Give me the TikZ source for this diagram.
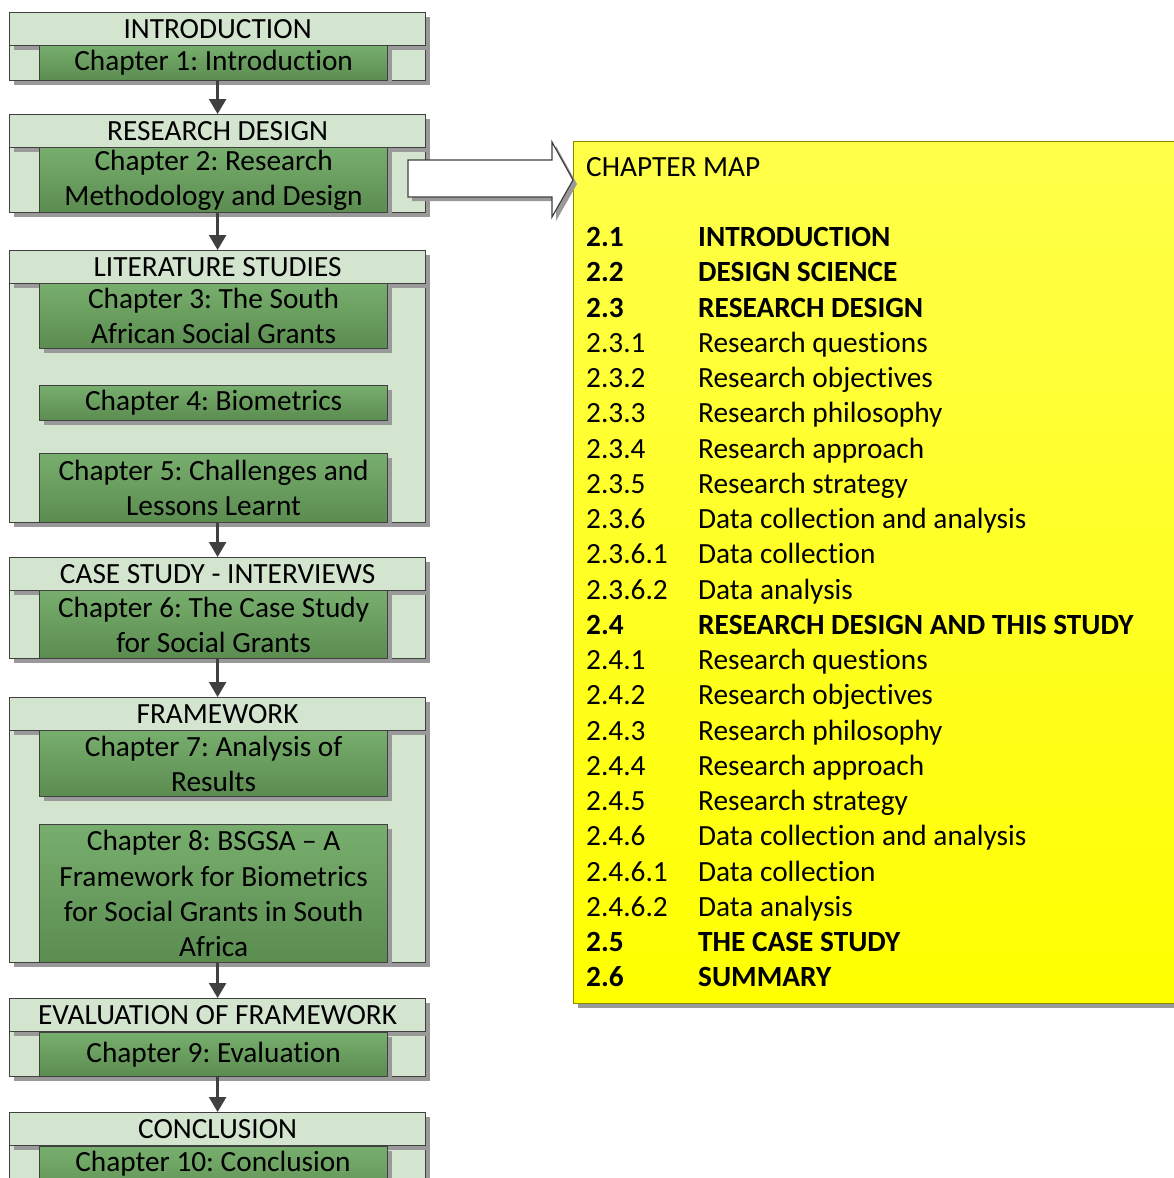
\documentclass[tikz,border=0pt]{standalone}
\usepackage{fontspec}
\setmainfont{Carlito}[Ligatures=NoCommon]
\usetikzlibrary{shadows,arrows.meta}
\definecolor{edge}{HTML}{404040}
\definecolor{panel}{HTML}{D4E5CF}
\definecolor{greentop}{HTML}{77AE6D}
\definecolor{greenbot}{HTML}{5B8C50}
\definecolor{yellowtop}{HTML}{FFFF4A}
\definecolor{yellowbot}{HTML}{FFFF00}
\definecolor{yellowedge}{HTML}{8A8A00}
\newcommand{\bodyfont}{\fontsize{29.3}{35.25}\selectfont\frenchspacing}
\tikzset{
  shade/.style={drop shadow={shadow xshift=4pt, shadow yshift=-4pt, fill=black!40, opacity=1}},
  outer/.style={draw=edge, fill=panel, line width=1.2pt, minimum width=416pt,
    anchor=north west, inner sep=0pt, shade},
  head/.style={draw=edge, fill=panel, line width=1.2pt, minimum width=416pt,
    minimum height=33pt, anchor=north west, inner sep=0pt, shade,
    font=\bodyfont, text height=18.9pt, text depth=0pt},
  chap/.style={draw=edge, top color=greentop, bottom color=greenbot, line width=1.2pt,
    minimum width=348pt, anchor=north west, inner sep=0pt, align=center,
    font=\bodyfont, shade},
  conn/.style={draw=edge, line width=2.4pt, -{Triangle[width=17pt,length=15pt]}},
}
\begin{document}
\begin{tikzpicture}[x=1pt,y=-1pt]
\clip (0,0) rectangle (1174,1178);
\fill[white] (0,0) rectangle (1174,1178);

% Introduction
\node[outer, minimum height=68pt] (o1) at (9,12) {};
\node[head] (h1) at (9,12) {INTRODUCTION};
\node[chap, minimum height=35pt] (c1) at (39,45) {Chapter 1: Introduction};

% Research design
\node[outer, minimum height=98pt] (o2) at (9,114) {};
\node[head] (h2) at (9,114) {RESEARCH DESIGN};
\node[chap, minimum height=65pt] (c2) at (39,147) {Chapter 2: Research\\Methodology and Design};

% Literature studies
\node[outer, minimum height=272pt] (o3) at (9,250) {};
\node[head] (h3) at (9,250) {LITERATURE STUDIES};
\node[chap, minimum height=65pt] (c3) at (39,283) {Chapter 3: The South\\African Social Grants};
\node[chap, minimum height=35pt] (c4) at (39,385) {Chapter 4: Biometrics};
\node[chap, minimum height=69pt] (c5) at (39,453) {Chapter 5: Challenges and\\Lessons Learnt};

% Case study
\node[outer, minimum height=101pt] (o4) at (9,557) {};
\node[head] (h4) at (9,557) {CASE STUDY - INTERVIEWS};
\node[chap, minimum height=68pt] (c6) at (39,590) {Chapter 6: The Case Study\\for Social Grants};

% Framework
\node[outer, minimum height=265pt] (o5) at (9,697) {};
\node[head] (h5) at (9,697) {FRAMEWORK};
\node[chap, minimum height=66pt] (c7) at (39,730) {Chapter 7: Analysis of\\Results};
\node[chap, minimum height=138pt] (c8) at (39,824) {Chapter 8: BSGSA -- A\\Framework for Biometrics\\for Social Grants in South\\Africa};

% Evaluation
\node[outer, minimum height=78pt] (o6) at (9,998) {};
\node[head] (h6) at (9,998) {EVALUATION OF FRAMEWORK};
\node[chap, minimum height=44pt] (c9) at (39,1032) {Chapter 9: Evaluation};

% Conclusion (runs past the lower edge)
\node[outer, minimum height=100pt] (o7) at (9,1112) {};
\node[head] (h7) at (9,1112) {CONCLUSION};
\node[chap, minimum height=60pt] (c10) at (39,1146) {};
\node[font=\bodyfont, anchor=base, inner sep=0pt] (t10) at (213,1171) {Chapter 10: Conclusion};

% flow between the stages
\draw[conn] (o1.south) -- (h2.north);
\draw[conn] (o2.south) -- (h3.north);
\draw[conn] (o3.south) -- (h4.north);
\draw[conn] (o4.south) -- (h5.north);
\draw[conn] (o5.south) -- (h6.north);
\draw[conn] (o6.south) -- (h7.north);

% chapter map panel
\node[draw=yellowedge, line width=1.2pt, top color=yellowtop, bottom color=yellowbot,
  minimum width=620pt, minimum height=862pt, anchor=north west, inner sep=0pt, shade]
  (map) at (573,141) {};

% block arrow pointing into the chapter map
\path[draw=edge, fill=white, line width=1.2pt, shade]
  (408,160) -- (552,160) -- (552,142) -- (map.west |- 0,180) -- (552,217) -- (552,197) -- (408,197) -- cycle;

\node[font=\bodyfont, anchor=base west, inner sep=0pt, align=left] (maptext) at (586,176) {%
\begin{tabular}[t]{@{}p{112pt}@{}l@{}}
\multicolumn{2}{@{}l@{}}{CHAPTER MAP}\\
 & \\
\textbf{2.1} & \textbf{INTRODUCTION}\\
\textbf{2.2} & \textbf{DESIGN SCIENCE}\\
\textbf{2.3} & \textbf{RESEARCH DESIGN}\\
2.3.1 & Research questions\\
2.3.2 & Research objectives\\
2.3.3 & Research philosophy\\
2.3.4 & Research approach\\
2.3.5 & Research strategy\\
2.3.6 & Data collection and analysis\\
2.3.6.1 & Data collection\\
2.3.6.2 & Data analysis\\
\textbf{2.4} & \textbf{RESEARCH DESIGN AND THIS STUDY}\\
2.4.1 & Research questions\\
2.4.2 & Research objectives\\
2.4.3 & Research philosophy\\
2.4.4 & Research approach\\
2.4.5 & Research strategy\\
2.4.6 & Data collection and analysis\\
2.4.6.1 & Data collection\\
2.4.6.2 & Data analysis\\
\textbf{2.5} & \textbf{THE CASE STUDY}\\
\textbf{2.6} & \textbf{SUMMARY}
\end{tabular}};
\end{tikzpicture}
\end{document}
